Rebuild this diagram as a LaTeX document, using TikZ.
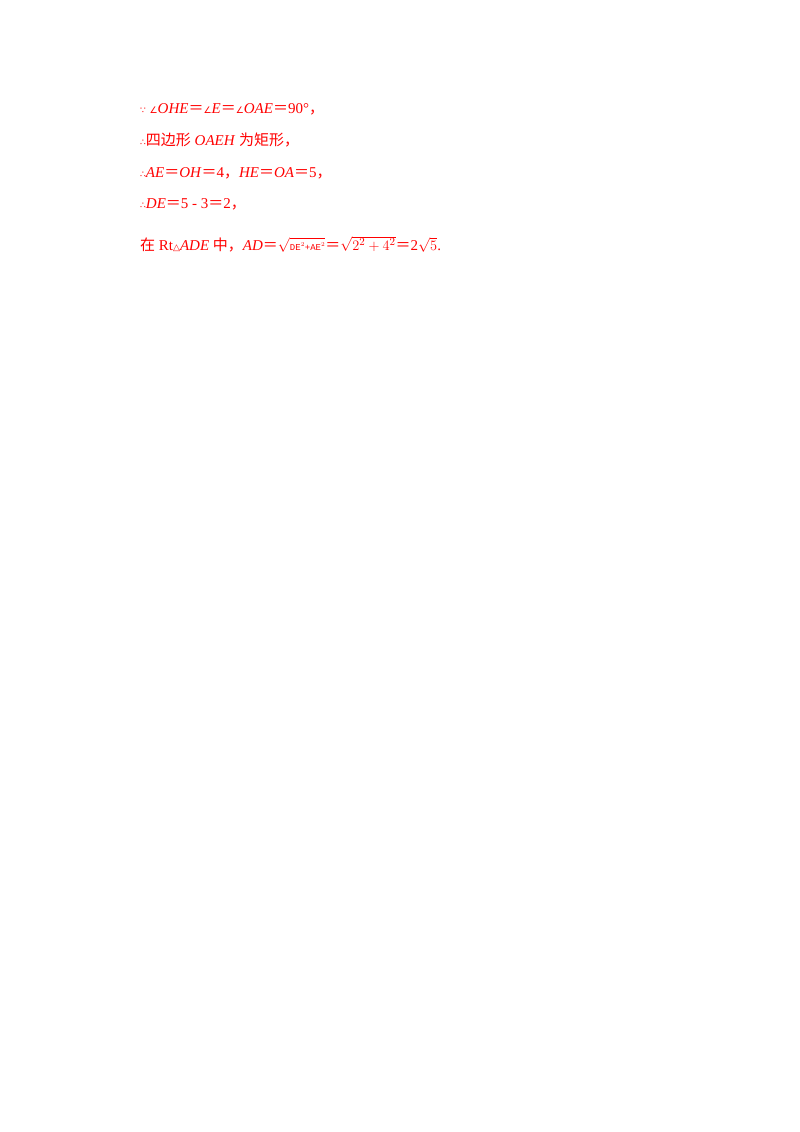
\documentclass[tikz,border=0pt]{standalone}
\usepackage{fontspec}
\setmainfont{Liberation Serif}
\newfontfamily\cjk{Noto Sans CJK SC}
\newfontfamily\sym{DejaVu Sans}
\newfontfamily\mono{Liberation Mono}
\definecolor{txt}{RGB}{255,0,0}
\newcommand{\myeq}{{\cjk ＝}}
\newcommand{\mycm}{{\cjk ，}}
\begin{document}
\begin{tikzpicture}[x=1pt,y=-1pt,
  ln/.style={anchor=base west,inner sep=0pt,text=txt,font=\fontsize{15}{18}\selectfont}]
\useasboundingbox (0,0) rectangle (800,1132);
\node[ln] (l1) at (140,113) {{\sym\small∵} {\sym\small∠}\textit{OHE}\myeq{\sym\small∠}\textit{E}\myeq{\sym\small∠}\textit{OAE}\myeq 90°\mycm};
\node[ln] (l2) at (140,145) {{\sym\small∴}{\cjk 四边形} \textit{OAEH} {\cjk 为矩形}\mycm};
\node[ln] (l3) at (140,177) {{\sym\small∴}\textit{AE}\myeq\textit{OH}\myeq 4\mycm\textit{HE}\myeq\textit{OA}\myeq 5\mycm};
\node[ln] (l4) at (140,208) {{\sym\small∴}\textit{DE}\myeq 5 - 3\myeq 2\mycm};
\node[ln] (l5) at (140,250) {{\cjk 在} Rt{\sym\small△}\textit{ADE} {\cjk 中}\mycm\textit{AD}\myeq$\sqrt{\mbox{\mono\small DE$^{2}$+AE$^{2}$}}$\myeq$\sqrt{2^{2}+4^{2}}$\myeq 2$\sqrt{5}$.};
\end{tikzpicture}
\end{document}
